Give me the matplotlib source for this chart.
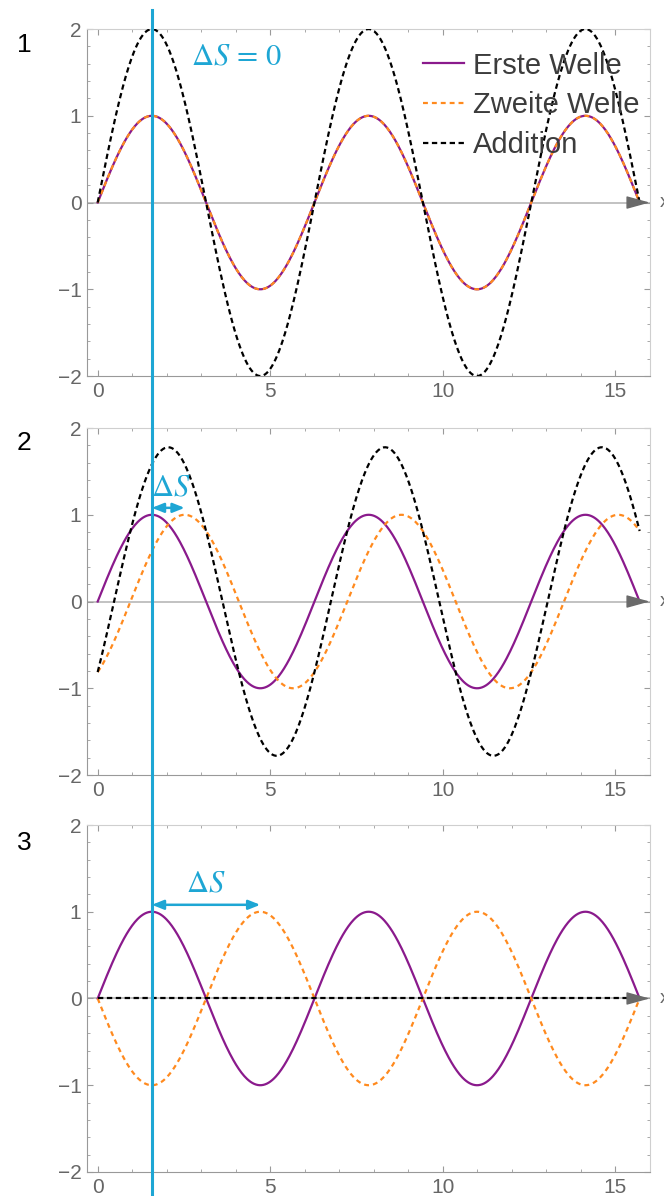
import numpy as np
import matplotlib
matplotlib.use('Agg')
import matplotlib.pyplot as plt
from matplotlib.lines import Line2D
from matplotlib.ticker import MultipleLocator

plt.rcParams['font.family'] = ['Liberation Sans', 'DejaVu Sans']
plt.rcParams['mathtext.fontset'] = 'stix'

# data: two unit sine waves, second one shifted by a phase (Delta S)
x_end = 5 * np.pi
phases = [0.0, 0.95, np.pi]
panel_labels = ['1', '2', '3']
series_names = ['Erste Welle', 'Zweite Welle', 'Addition']
x_ticks = [0, 5, 10, 15]
y_ticks = [-2, -1, 0, 1, 2]

purple = '#8a1a8c'
orange = '#ff8a1e'
cyan = '#1ea6d4'
grey_txt = '#666666'

x = np.linspace(0, x_end, 600)

fig = plt.figure(figsize=(6.64, 11.96), dpi=100)
bottoms = [0.6856, 0.352, 0.0201]
axes = []
for i, phi in enumerate(phases):
    ax = fig.add_axes([0.131, bottoms[i], 0.848, 0.2901])
    axes.append(ax)
    w1 = np.sin(x)
    w2 = np.sin(x - phi)
    ax.axhline(0, color='#b8b8b8', lw=1.2, zorder=1)
    ax.plot(x, w1, color=purple, lw=1.6, label=series_names[0], zorder=3)
    ax.plot(x, w2, color=orange, lw=1.6, ls=(0, (2.2, 1.8)), label=series_names[1], zorder=4)
    ax.plot(x, w1 + w2, color='black', lw=1.6, ls=(0, (2.4, 1.6)), label=series_names[2], zorder=5)

    ax.set_xlim(-0.31, 16.01)
    ax.set_ylim(-2, 2)
    ax.set_xticks(x_ticks)
    ax.set_yticks(y_ticks)
    ax.xaxis.set_minor_locator(MultipleLocator(1))
    ax.yaxis.set_minor_locator(MultipleLocator(0.2))
    ax.tick_params(which='both', direction='in', top=True, right=True,
                   color='#9a9a9a', labelcolor=grey_txt, labelsize=15)
    ax.tick_params(which='major', length=4, width=0.8)
    ax.tick_params(which='minor', length=2.5, width=0.6)
    ax.tick_params(axis='x', pad=4.5)
    ax.tick_params(axis='y', pad=4)
    for s in ['left', 'bottom']:
        ax.spines[s].set_color('#999999')
    for s in ['top', 'right']:
        ax.spines[s].set_color('#cfcfcf')

    # axis arrow and x label
    ax.annotate('', xy=(16.0, 0), xytext=(15.55, 0),
                arrowprops=dict(arrowstyle='-|>,head_length=0.8,head_width=0.22',
                                color='#6a6a6a', lw=1, mutation_scale=18,
                                shrinkA=0, shrinkB=0), zorder=6, annotation_clip=False)
    ax.text(16.3, 0, 'x', color=grey_txt, fontsize=14, va='center', ha='left', clip_on=False)

    fig.text(0.025, 1 - [45, 443, 843][i] / 1196, panel_labels[i], fontsize=19,
             va='center', ha='left', color='black')

    if phi > 0:
        ax.annotate('', xy=(np.pi / 2 + phi, 1.08), xytext=(np.pi / 2, 1.08),
                    arrowprops=dict(arrowstyle='<|-|>,head_length=0.5,head_width=0.2',
                                    color=cyan, lw=1.8, mutation_scale=14,
                                    shrinkA=0, shrinkB=0), zorder=7)
        ax.text(np.pi / 2 + max(phi / 2, 0.55), 1.32, r'$\Delta S$', color=cyan,
                fontsize=22, ha='center', va='center', zorder=7)

axes[0].text(2.71, 1.68, r'$\Delta S\,=\,0$', color=cyan, fontsize=22,
             ha='left', va='center')

axes[0].legend(loc='upper left', bbox_to_anchor=(0.597, 0.935), frameon=False,
               fontsize=21, handlelength=1.4, handletextpad=0.3, labelspacing=0.4,
               borderpad=0, borderaxespad=0, labelcolor='#3c3c3c')

# vertical marker line through all panels at the first crest
fig.canvas.draw()
xf = fig.transFigure.inverted().transform(axes[0].transData.transform((np.pi / 2, 0)))[0]
fig.add_artist(Line2D([xf, xf], [0, 1 - 10 / 1196], transform=fig.transFigure,
                      color=cyan, lw=2.2, zorder=10))

fig.savefig('out.png', dpi=100)
